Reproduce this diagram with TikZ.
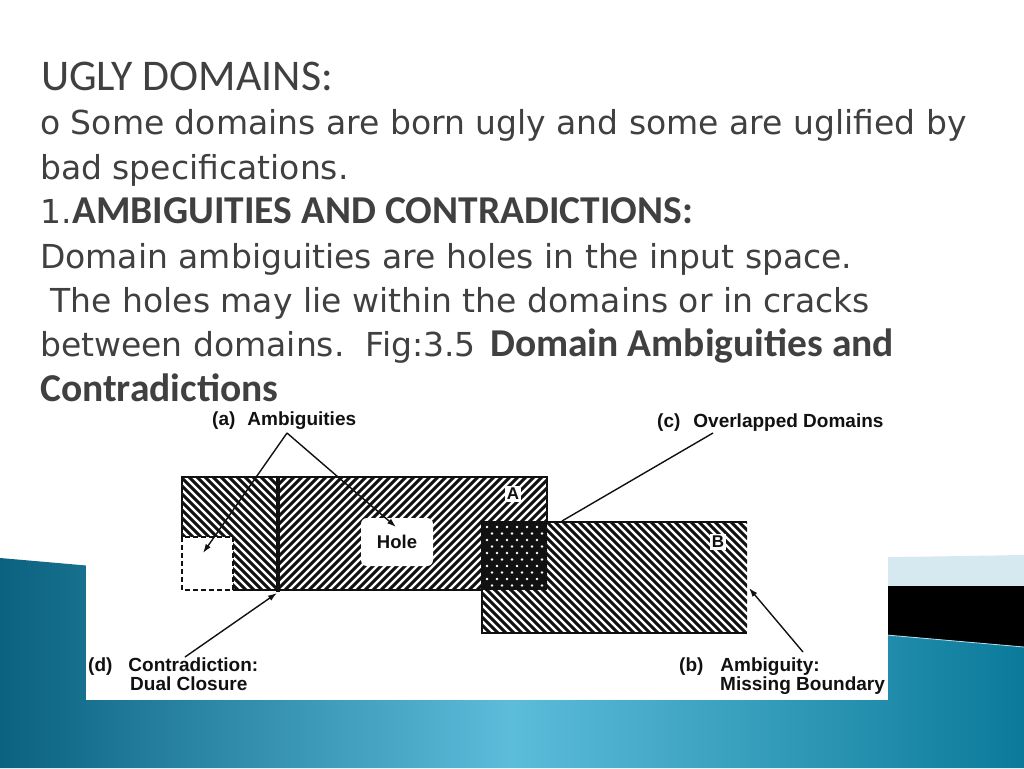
\documentclass[tikz,border=0pt]{standalone}
\usepackage{fontspec}
\usepackage{xcolor}
\usepackage{tikz}
\usetikzlibrary{arrows.meta, positioning, calc}
\setmainfont{DejaVu Sans}
\newfontfamily\headfont{Carlito}
\newfontfamily\figfont{Liberation Sans}
\definecolor{slidetext}{HTML}{404040}
\definecolor{tealdark}{HTML}{0A6180}
\definecolor{teallight}{HTML}{5CBCDA}
\definecolor{tealright}{HTML}{0B7A9A}
\definecolor{bandlight}{HTML}{D6E9F1}
\definecolor{scanink}{HTML}{111111}
\pgfdeclarehorizontalshading{slideteal}{100bp}{color(0bp)=(tealdark); color(25bp)=(tealdark);
  color(36bp)=(tealdark!55!teallight); color(50bp)=(teallight); color(64bp)=(tealright!55!teallight);
  color(75bp)=(tealright); color(100bp)=(tealright)}

\begin{document}
\begin{tikzpicture}[x=1pt, y=-1pt,
    bodytext/.style={anchor=base west, inner sep=0pt, text=slidetext, font=\fontsize{33}{40}\selectfont},
    headtext/.style={anchor=base west, inner sep=0pt, text=slidetext, font=\headfont\bfseries\fontsize{39.5}{46}\selectfont},
    figlabel/.style={anchor=base west, inner sep=0pt, text=scanink, font=\figfont\bfseries\fontsize{19}{20}\selectfont},
    pointer/.style={draw=scanink, line width=1.4pt, -{Latex[length=9pt,width=6pt]}},
    hatch/.style={draw=scanink, line width=3.1pt},
    domline/.style={draw=scanink, line width=2.8pt},
]
\useasboundingbox (0,0) rectangle (1024,768);
\fill[white] (0,0) rectangle (1024,768);

% slide decoration
\fill[bandlight] (600,562) -- (1024,555) -- (1024,586) -- (600,586) -- cycle;
\fill[black] (600,586) -- (1024,586) -- (1024,647) -- (600,610) -- cycle;
\shade[shading=slideteal] (0,558) -- (1024,647) -- (1024,768) -- (0,768) -- cycle;
\draw[bandlight!70!teallight, line width=0.8pt] (600,610) -- (1024,647);

% figure panel
\fill[white] (86,402) rectangle (888,700);

% domain A, left part
\begin{scope}
  \clip (182,477) rectangle (278,590);
  \foreach \i in {69,77,...,285} \draw[hatch] (\i,477) -- ++(113,113);
\end{scope}
% domain A, right part
\begin{scope}
  \clip (278,477) rectangle (547,590);
  \foreach \i in {165,173,...,555} \draw[hatch] (\i,590) -- ++(113,-113);
\end{scope}
% domain B
\begin{scope}
  \clip (482,522) rectangle (747,633);
  \foreach \i in {371,379,...,755} \draw[hatch] (\i,522) -- ++(111,111);
\end{scope}

% overlap of A and B
\fill[scanink] (482,522) rectangle (547,590);
\begin{scope}
  \clip (484,524) rectangle (545,588);
  \foreach \r in {0,...,9}
    \foreach \c in {0,...,6}
      \fill[white] ({487+\c*10+mod(\r,2)*5},{527+\r*6.5}) circle (1.3);
\end{scope}

% missing square and hole
\fill[white] (182,537) rectangle (233,590);
\draw[draw=scanink, line width=2pt, dash pattern=on 5pt off 3pt] (182,537) rectangle (233,590);
\node[fill=white, minimum width=72pt, minimum height=48pt, rounded corners=6pt, text=scanink,
      font=\figfont\bfseries\fontsize{18.5}{20}\selectfont] (hole) at (397,542) {Hole};

% boundaries
\draw[domline] (182,537) -- (182,477) -- (547,477) -- (547,522);
\draw[domline] (233,590) -- (482,590);
\draw[draw=scanink, line width=4pt] (278,477) -- (278,592);
\draw[domline] (747,522) -- (482,522) -- (482,633) -- (747,633);

\node[fill=white, inner sep=2pt, text=scanink, font=\figfont\bfseries\fontsize{17}{18}\selectfont] (nameA) at (513,494) {A};
\node[fill=white, inner sep=2pt, text=scanink, font=\figfont\bfseries\fontsize{17}{18}\selectfont] (nameB) at (718,542) {B};

% labels
\node[figlabel] (ambLabel) at (212,425) {(a)\hspace{12pt}Ambiguities};
\node[figlabel] (ovlLabel) at (657,427) {(c)\hspace{13pt}Overlapped Domains};
\node[figlabel] (conLabel) at (88,671) {(d)\hspace{16pt}Contradiction:};
\node[figlabel] (conLabel2) at (130,690) {Dual Closure};
\node[figlabel] (misLabel) at (679,671) {(b)\hspace{17pt}Ambiguity:};
\node[figlabel] (misLabel2) at (720,690) {Missing Boundary};

% pointers
\coordinate (apex) at (287,433);
\coordinate (squareTip) at (203,553);
\coordinate (holeTip) at (396,527);
\coordinate (dualFrom) at (185,657);
\coordinate (dualTip) at (277,593);
\coordinate (ovlFrom) at (713,433);
\coordinate (ovlTip) at (562,521);
\coordinate (misFrom) at (803,652);
\coordinate (misTip) at (749,588);
\draw[pointer] (apex) -- (squareTip);
\draw[pointer] (apex) -- (holeTip);
\draw[pointer] (dualFrom) -- (dualTip);
\draw[draw=scanink, line width=1.4pt] (ovlFrom) -- (ovlTip);
\draw[pointer] (misFrom) -- (misTip);

% slide text
\node[headtext, font=\headfont\fontsize{43.8}{50}\selectfont] (title) at (41,90) {UGLY DOMAINS:};
\node[bodytext] (line1) at (40,134) {o Some domains are born ugly and some are uglified by};
\node[bodytext] (line2) at (40,179) {bad specifications.};
\node[bodytext] (num) at (40,223) {1.};
\node[headtext] (ambig) at (num.base east) {AMBIGUITIES AND CONTRADICTIONS:};
\node[bodytext] (line4) at (40,268) {Domain ambiguities are holes in the input space.};
\node[bodytext] (line5) at (40,312) {\ The holes may lie within the domains or in cracks};
\node[bodytext] (line6) at (40,356) {between domains.\ \ Fig:3.5};
\node[headtext] (figname) at (490,356) {Domain Ambiguities and};
\node[headtext] (figname2) at (40,401) {Contradictions};

\end{tikzpicture}
\end{document}
